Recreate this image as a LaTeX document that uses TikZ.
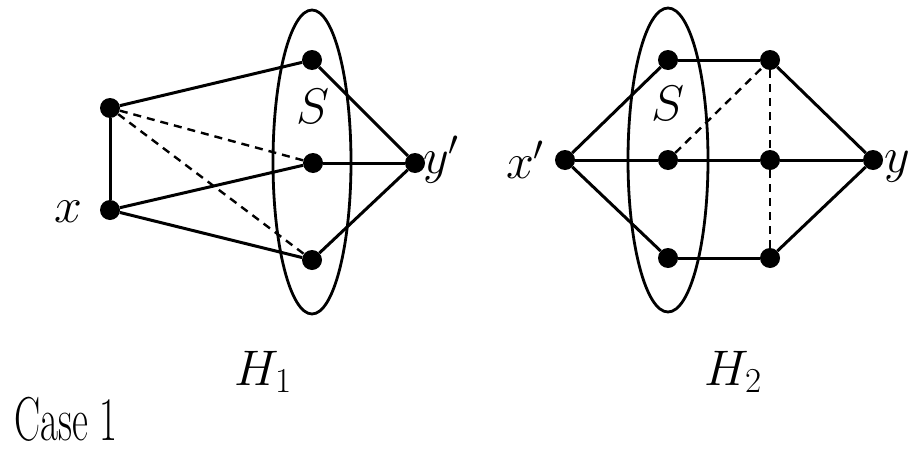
\RequirePackage{fix-cm}
\documentclass[tikz,border=0pt]{standalone}
\begin{document}
\begin{tikzpicture}[x=1pt,y=-1pt,
  dot/.style={circle,fill=black,inner sep=0pt,minimum size=20pt},
  edge/.style={line width=3pt},
  dedge/.style={line width=2.4pt,dash pattern=on 8pt off 6pt},
  ring/.style={line width=2.8pt},
  lab/.style={font=\fontsize{50}{58}\selectfont,inner sep=0pt}]
\useasboundingbox (0,0) rectangle (923,455);
% ---- H1 ----
\draw[ring] (312,162) ellipse [x radius=39, y radius=152];
\node[dot] (a) at (110,108) {};
\node[dot] (x) at (110,210) {};
\node[dot] (s1) at (312,60) {};
\node[dot] (s2) at (313,163) {};
\node[dot] (s3) at (312,260) {};
\node[dot] (yp) at (415,163) {};
\draw[edge] (a) -- (s1);
\draw[edge] (a) -- (x);
\draw[dedge] (a) -- (s2);
\draw[dedge] (a) -- (s3);
\draw[edge] (x) -- (s2);
\draw[edge] (x) -- (s3);
\draw[edge] (s1) -- (yp);
\draw[edge] (s2) -- (yp);
\draw[edge] (s3) -- (yp);
\node[lab] (S1) at (313,106) {$S$};
\node[lab] (xl) at (68,212) {$x$};
\node[lab,anchor=west] (ypl) at (423,160) {$y'$};
\node[lab] (H1) at (263,372) {$H_1$};
% ---- H2 ----
\draw[ring] (668,160) ellipse [x radius=40, y radius=152];
\node[dot] (xp) at (565,160) {};
\node[dot] (u1) at (668,60) {};
\node[dot] (u2) at (668,160) {};
\node[dot] (u3) at (668,258) {};
\node[dot] (t1) at (770,60) {};
\node[dot] (t2) at (770,160) {};
\node[dot] (t3) at (770,258) {};
\node[dot] (y) at (873,160) {};
\draw[edge] (xp) -- (u1);
\draw[edge] (xp) -- (u2);
\draw[edge] (xp) -- (u3);
\draw[edge] (u1) -- (t1);
\draw[edge] (u2) -- (t2);
\draw[edge] (u3) -- (t3);
\draw[edge] (t2) -- (y);
\draw[edge] (t1) -- (y);
\draw[edge] (t3) -- (y);
\draw[dedge] (u2) -- (t1);
\draw[dedge] (t1) -- (t2);
\draw[dedge] (t2) -- (t3);
\node[lab] (S2) at (668,103) {$S$};
\node[lab] (xpl) at (525,160) {$x'$};
\node[lab,anchor=west] (yl) at (884,167) {$y$};
\node[lab] (H2) at (733,372) {$H_2$};
% ---- caption ----
\node[inner sep=0pt,font=\fontsize{62}{68}\selectfont] (case) at (66,419) {\scalebox{0.63}[1]{Case 1}};
\end{tikzpicture}
\end{document}
